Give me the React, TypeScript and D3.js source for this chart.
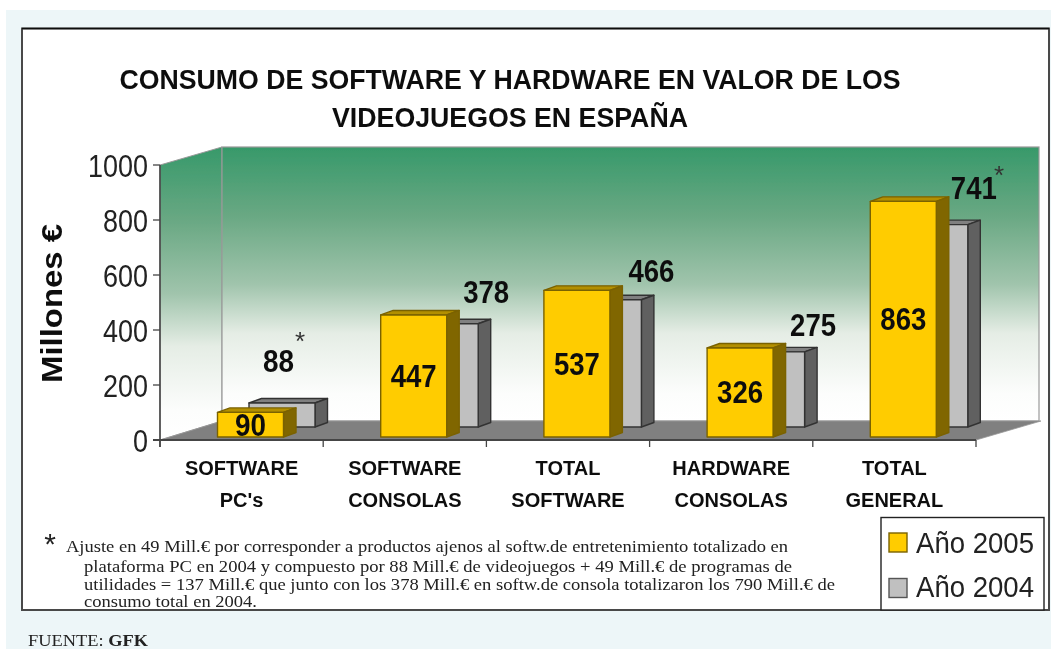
import React from "react";
import * as d3 from "d3";

const categories = ["SOFTWARE PC's", "SOFTWARE CONSOLAS", "TOTAL SOFTWARE", "HARDWARE CONSOLAS", "TOTAL GENERAL"];
const categoryLines = [["SOFTWARE", "PC's"], ["SOFTWARE", "CONSOLAS"], ["TOTAL", "SOFTWARE"], ["HARDWARE", "CONSOLAS"], ["TOTAL", "GENERAL"]];
const values2005 = [90, 447, 537, 326, 863];
const values2004 = [88, 378, 466, 275, 741];
const title = ["CONSUMO DE SOFTWARE Y HARDWARE EN VALOR DE LOS", "VIDEOJUEGOS EN ESPAÑA"];
const yTitle = "Millones €";
const legendLabels = ["Año 2005", "Año 2004"];
const footnote = [
  "Ajuste en 49 Mill.€ por corresponder a productos ajenos al softw.de entretenimiento totalizado en",
  "plataforma PC en 2004 y compuesto por 88 Mill.€ de videojuegos  + 49 Mill.€ de programas de",
  "utilidades = 137 Mill.€ que junto con los 378 Mill.€ en softw.de consola totalizaron los 790 Mill.€ de",
  "consumo total en 2004.",
];

const label2004Dx = [-3.5, 41, 43, 41.5, 39];
const label2004Dy = [-31, -21, -18, -16, -26];

const SANS = "'Liberation Sans', Arial, sans-serif";
const SERIF = "'Liberation Serif', 'Times New Roman', serif";

const x = d3.scaleBand<string>().domain(categories).range([160, 976]);
const y = d3.scaleLinear().domain([0, 1000]).range([440, 165]);
const h = (v: number) => (y(0) - y(v)) * 0.993;

const depth = { dx: 62, dy: -19 };
const barW = 66;
const barD = { dx: 12.5, dy: -4.5 };

function Bar({ x0, base, v, face, side, top, stroke }: any) {
  const t = base - h(v);
  const r = x0 + barW;
  const pts = (a: number[][]) => a.map((p) => p.join(",")).join(" ");
  return (
    <g stroke={stroke} strokeWidth={1.4} strokeLinejoin="round">
      <polygon points={pts([[x0, t], [x0 + barD.dx, t + barD.dy], [r + barD.dx, t + barD.dy], [r, t]])} fill={top} />
      <polygon points={pts([[r, t], [r + barD.dx, t + barD.dy], [r + barD.dx, base + barD.dy], [r, base]])} fill={side} />
      <rect x={x0} y={t} width={barW} height={base - t} fill={face} />
    </g>
  );
}

export default function App() {
  const backL = 160 + depth.dx;
  const backR = 976 + depth.dx + 1;
  const backB = y(0) + depth.dy;
  const backT = y(1000) + depth.dy + 1;
  return (
    <svg width={1051} height={649} style={{ position: "absolute", left: 0, top: 0, background: "#fff" }}>
      <defs>
        <linearGradient id="wall" x1="0" y1="0" x2="0" y2="1">
          <stop offset="0" stopColor="#37996A" />
          <stop offset="0.25" stopColor="#69A883" />
          <stop offset="0.5" stopColor="#A0C4AC" />
          <stop offset="0.68" stopColor="#E5EDE5" />
          <stop offset="0.9" stopColor="#FCFDFC" />
          <stop offset="1" stopColor="#FFFFFF" />
        </linearGradient>
        <filter id="soft" x="0" y="0" width="100%" height="100%">
          <feGaussianBlur stdDeviation="0.45" />
        </filter>
      </defs>
      <g filter="url(#soft)">
        <rect x={6} y={10} width={1045} height={639} fill="#EDF6F8" />
        <rect x={22} y={28.5} width={1027} height={581.5} fill="#fff" stroke="#4a4a4a" strokeWidth={2} />
        <line x1={22} x2={1049} y1={28.5} y2={28.5} stroke="#111" strokeWidth={1.6} />

        {title.map((t, i) => (
          <text key={t} x={510} y={i ? 127 : 89} textAnchor="middle" fontFamily={SANS} fontWeight="bold"
            fontSize={27} fill="#111" textLength={i ? 356 : 781} lengthAdjust="spacingAndGlyphs">{t}</text>
        ))}

        {/* walls */}
        <polygon points={`160,${y(1000)} ${backL},${backT} ${backL},${backB} 160,${y(0)}`} fill="url(#wall)" stroke="#999" strokeWidth={1} />
        <rect x={backL} y={backT} width={backR - backL} height={backB - backT} fill="url(#wall)" stroke="#999" strokeWidth={1.2} />
        <polygon points={`160,${y(0)} ${backL},${backB} ${backR + 2},${backB} 976,${y(0)}`} fill="#808080" stroke="#999" strokeWidth={0.8} />

        {/* axes */}
        <line x1={160} x2={160} y1={y(1000)} y2={447} stroke="#444" strokeWidth={1.6} />
        <line x1={153} x2={976} y1={y(0)} y2={y(0)} stroke="#444" strokeWidth={2} />
        {y.ticks(5).map((t) => (
          <g key={t}>
            <line x1={153} x2={160} y1={y(t)} y2={y(t)} stroke="#444" strokeWidth={1.3} />
            <text x={148} y={y(t) + 12} textAnchor="end" fontFamily={SANS} fontSize={32} fill="#222"
              textLength={String(t).length * 15} lengthAdjust="spacingAndGlyphs">{t}</text>
          </g>
        ))}
        {[...categories.map((c) => x(c)!), 976].map((px) => (
          <line key={px} x1={px} x2={px} y1={y(0)} y2={447} stroke="#444" strokeWidth={1.3} />
        ))}

        {/* bars */}
        {categories.map((c, i) => {
          const x0 = x(c)!;
          const bw = x.bandwidth();
          const t04 = 427 - h(values2004[i]);
          const base05 = 437;
          return (
            <g key={c}>
              <Bar x0={x0 + 89} base={427} v={values2004[i]} face="#C0C0C0" side="#606060" top="#808080" stroke="#333" />
              <Bar x0={x0 + 57.5} base={base05} v={values2005[i]} face="#FFCC00" side="#806600" top="#B38F00" stroke="#7A6200" />
              <text x={x0 + 57.5 + barW / 2} y={base05 - h(values2005[i]) / 2 + 11} textAnchor="middle" fontFamily={SANS}
                fontWeight="bold" fontSize={32} fill="#111" textLength={values2005[i] < 100 ? 31 : 46} lengthAdjust="spacingAndGlyphs">{values2005[i]}</text>
              <text x={x0 + 89 + barW / 2 + label2004Dx[i]} y={t04 + label2004Dy[i]} textAnchor="middle" fontFamily={SANS}
                fontWeight="bold" fontSize={32} fill="#111" textLength={values2004[i] < 100 ? 31 : 46} lengthAdjust="spacingAndGlyphs">{values2004[i]}</text>
              {categoryLines[i].map((l, j) => (
                <text key={j} x={x0 + bw / 2} y={475 + j * 31.5} textAnchor="middle" fontFamily={SANS} fontWeight="bold" fontSize={20} fill="#111">{l}</text>
              ))}
            </g>
          );
        })}

        <text x={300} y={350} textAnchor="middle" fontFamily={SANS} fontSize={26} fill="#333">*</text>
        <text x={999} y={184} textAnchor="middle" fontFamily={SANS} fontSize={26} fill="#333">*</text>

        <text transform="translate(62,303.5) rotate(-90)" textAnchor="middle" fontFamily={SANS} fontWeight="bold" fontSize={29}
          fill="#111" textLength={159} lengthAdjust="spacingAndGlyphs">{yTitle}</text>

        {/* footnote */}
        <text x={50} y={554} textAnchor="middle" fontFamily={SANS} fontSize={30} fill="#222">*</text>
        {footnote.map((l, i) => (
          <text key={i} x={i ? 84 : 66} y={[552, 572, 590, 607][i]} fontFamily={SERIF} fontSize={17} fill="#222"
            textLength={[722, 708, 751, 173][i]} lengthAdjust="spacingAndGlyphs">{l}</text>
        ))}

        {/* legend */}
        <rect x={881} y={517.5} width={163} height={92.5} fill="#fff" stroke="#222" strokeWidth={1.4} />
        {legendLabels.map((l, i) => (
          <g key={l}>
            <rect x={889} y={533 + i * 45.5} width={18} height={19} fill={i ? "#C0C0C0" : "#FFCC00"} stroke={i ? "#555" : "#7A6200"} strokeWidth={1.4} />
            <text x={916} y={553 + i * 44} fontFamily={SANS} fontSize={29} fill="#222" textLength={118} lengthAdjust="spacingAndGlyphs">{l}</text>
          </g>
        ))}

        <text x={28} y={645.5} fontFamily={SERIF} fontSize={17} fill="#222" textLength={120} lengthAdjust="spacingAndGlyphs">FUENTE: <tspan fontWeight="bold">GFK</tspan></text>
      </g>
    </svg>
  );
}
